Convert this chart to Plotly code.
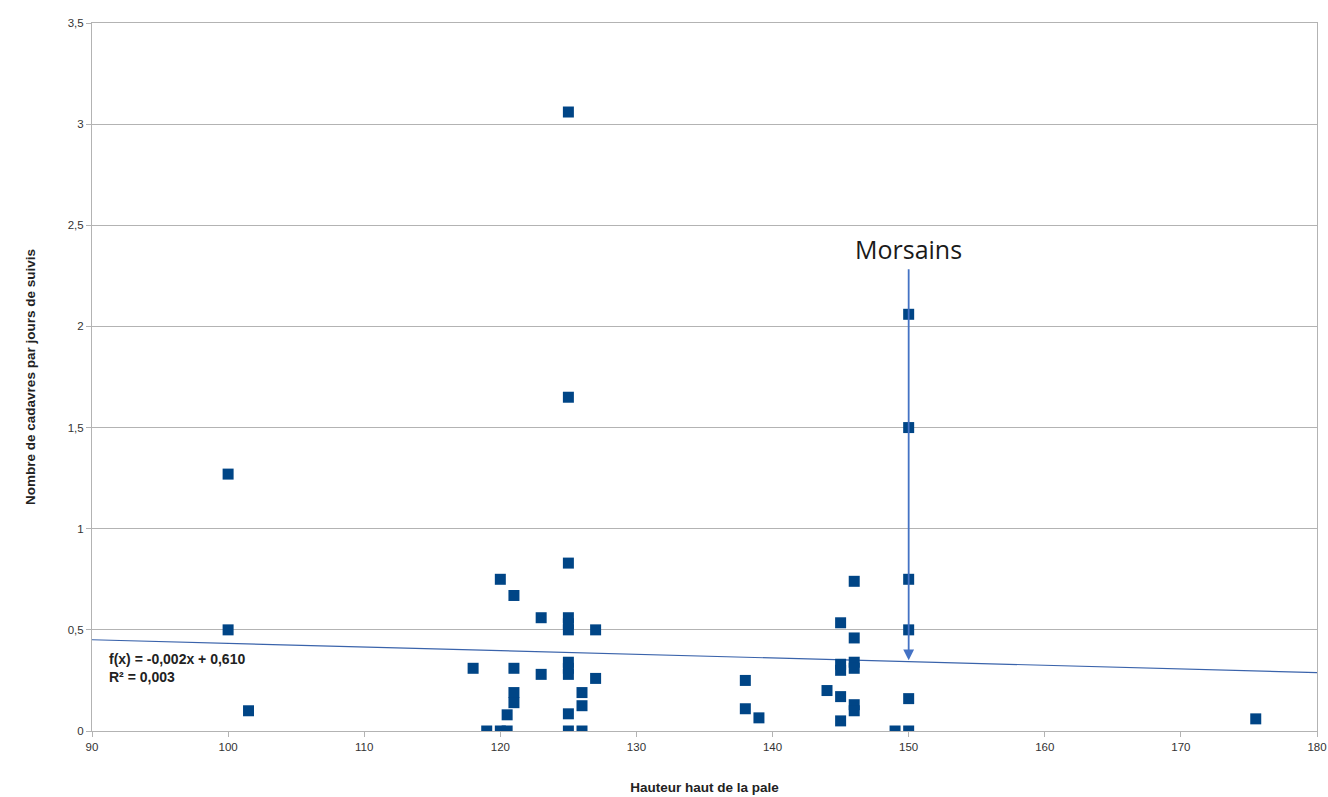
import plotly.graph_objects as go

# Data
hauteur = [100, 100, 101.5, 118, 119, 120, 120, 120.5, 120.5, 121, 121, 121, 121,
           123, 123, 125, 125, 125, 125, 125, 125, 125, 125, 125, 125, 125,
           126, 126, 126, 127, 127, 138, 138, 139, 144, 145, 145, 145, 145, 145,
           146, 146, 146, 146, 146, 146, 149, 150, 150, 150, 150, 150, 150, 175.5]
cadavres = [1.27, 0.5, 0.1, 0.31, 0.0, 0.75, 0.0, 0.0, 0.08, 0.67, 0.31, 0.19, 0.14,
            0.56, 0.28, 3.06, 1.65, 0.83, 0.56, 0.53, 0.5, 0.34, 0.31, 0.28, 0.085, 0.0,
            0.0, 0.19, 0.125, 0.5, 0.26, 0.25, 0.11, 0.065, 0.2, 0.535, 0.33, 0.3, 0.17, 0.05,
            0.74, 0.46, 0.34, 0.31, 0.13, 0.1, 0.0, 0.0, 2.06, 1.5, 0.75, 0.5, 0.16, 0.06]

trend_slope = -0.0018
trend_intercept = 0.613
trend_x = [90, 180]
trend_y = [trend_intercept + trend_slope * v for v in trend_x]

x_ticks = [90, 100, 110, 120, 130, 140, 150, 160, 170, 180]
y_ticks = [0, 0.5, 1, 1.5, 2, 2.5, 3, 3.5]

arrow_x = 150
arrow_top = 2.29
arrow_tip = 0.35

FONT = "Liberation Sans, Arial, sans-serif"
MARK = "#004586"

fig = go.Figure()
fig.add_trace(go.Scatter(x=trend_x, y=trend_y, mode="lines",
                         line=dict(color="#3A63AB", width=1.2),
                         hoverinfo="skip", showlegend=False))
fig.add_trace(go.Scatter(x=hauteur, y=cadavres, mode="markers",
                         marker=dict(symbol="square", size=11, color=MARK,
                                     line=dict(width=0)),
                         showlegend=False))

fig.add_annotation(x=arrow_x, y=arrow_tip, ax=arrow_x, ay=arrow_top,
                   xref="x", yref="y", axref="x", ayref="y",
                   showarrow=True, arrowhead=2, arrowsize=1.2, arrowwidth=1.8,
                   arrowcolor="#4472C4", text="")
fig.add_annotation(x=arrow_x, y=arrow_top, xref="x", yref="y", text="Morsains",
                   showarrow=False, yanchor="bottom", yshift=0,
                   font=dict(family="Open Sans, Liberation Sans, sans-serif", size=25, color="#1a1a1a"))
fig.add_annotation(x=0.012, y=0.31, xref="paper", yref="y",
                   text="<b>f(x) = -0,002x + 0,610</b><br><b>R² = 0,003</b>",
                   showarrow=False, xanchor="left", yanchor="middle", align="left",
                   font=dict(family=FONT, size=14, color="#222"))

fig.update_layout(
    width=1328, height=797,
    margin=dict(l=92, r=11, t=23, b=66),
    paper_bgcolor="white", plot_bgcolor="white",
    separators=", ",
    font=dict(family=FONT, size=11.5, color="#333"),
    xaxis=dict(range=[90, 180], tickvals=x_ticks, showgrid=False, zeroline=False,
               showline=True, linecolor="#b3b3b3", linewidth=1, mirror=True,
               ticks="outside", ticklen=5, tickcolor="#b3b3b3", automargin=False,
               title=dict(text="<b>Hauteur haut de la pale</b>", font=dict(size=13.5, color="#222"),
                          standoff=30)),
    yaxis=dict(range=[0, 3.5], tickvals=y_ticks, showgrid=True, gridcolor="#b3b3b3",
               gridwidth=1, zeroline=False, showline=True, linecolor="#b3b3b3",
               linewidth=1, mirror=True, ticks="outside", ticklen=5, tickcolor="#b3b3b3",
               automargin=False,
               title=dict(text="<b>Nombre de cadavres par jours de suivis</b>",
                          font=dict(size=13.5, color="#222"), standoff=28)),
)

fig.write_html("out.html", config={"displayModeBar": False},
               post_script="document.body.style.margin='0';document.body.style.overflow='hidden';")
